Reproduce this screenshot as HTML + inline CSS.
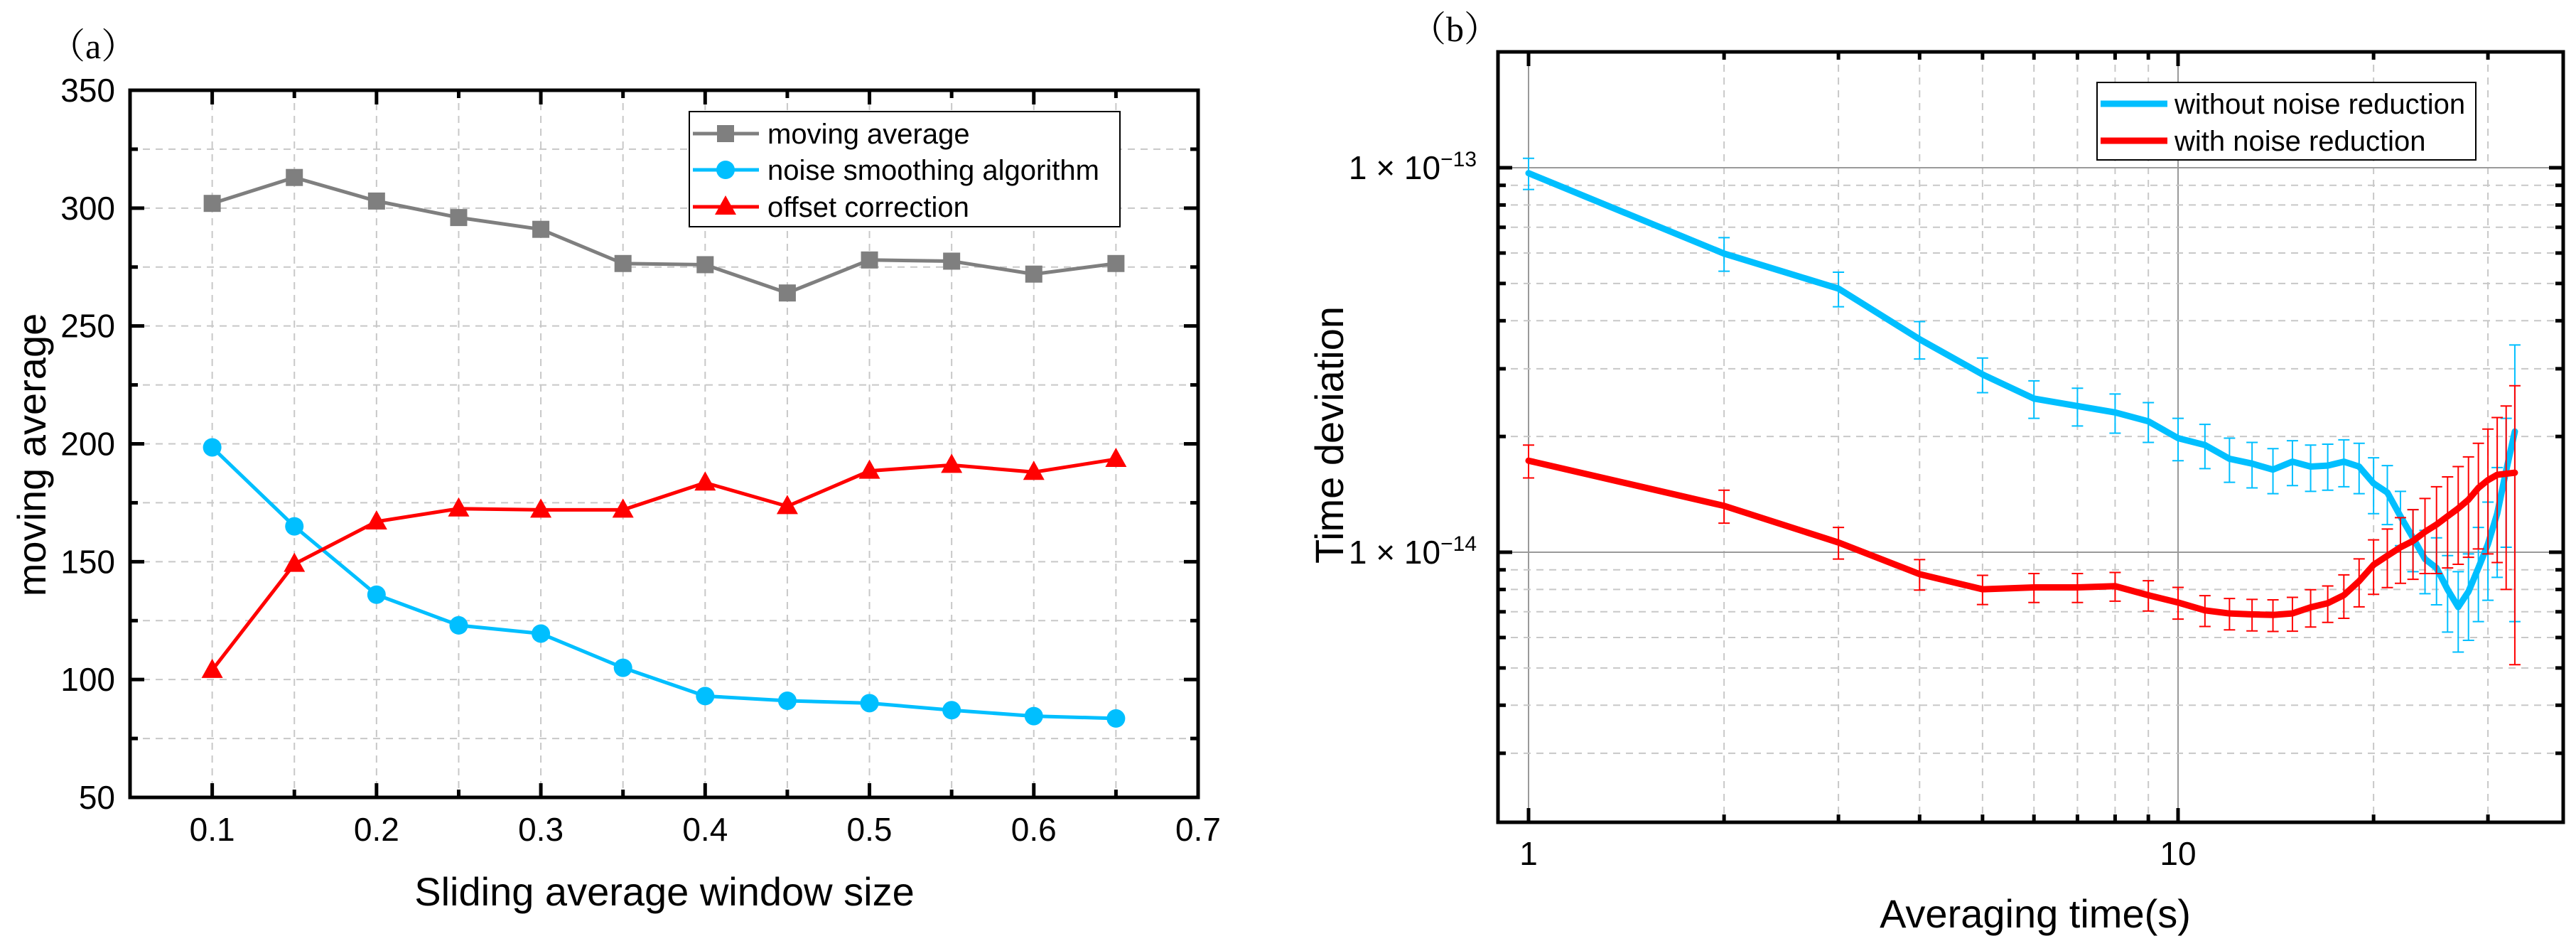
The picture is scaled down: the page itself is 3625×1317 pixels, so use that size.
<!DOCTYPE html>
<html><head><meta charset="utf-8"><style>
html,body{margin:0;padding:0;background:#fff;}
svg{display:block;font-family:"Liberation Sans",sans-serif;}
</style></head><body>
<svg id="c" width="3625" height="1317" viewBox="0 0 3625 1317" xmlns="http://www.w3.org/2000/svg"></svg>
<script>
// ---- Panel (a) data ----
const aX = [0.1,0.15,0.2,0.25,0.3,0.35,0.4,0.45,0.5,0.55,0.6,0.65];
const aMoving = [302,313,303,296,291,276.5,276,264,278,277.5,272,276.5];
const aNoise = [198.5,165,136,123,119.5,105,93,91,90,87,84.5,83.5];
const aOffset = [104,149,167,172.5,172,172,183.5,173.5,188.5,191,188,193.5];
const aXTicks = ["0.1","0.2","0.3","0.4","0.5","0.6","0.7"];
const aYTicks = ["50","100","150","200","250","300","350"];
// ---- Panel (b) data ----
const bTau = [1,2,3,4,5,6,7,8,9,10,11,12,13,14,15,16,17,18,19,20,21,22,23,24,25,26,27,28,29,30,31,32,33];
const bWithout = [9.68e-14,5.98e-14,4.85e-14,3.58e-14,2.90e-14,2.51e-14,2.40e-14,2.31e-14,2.19e-14,1.98e-14,1.90e-14,1.75e-14,1.70e-14,1.64e-14,1.72e-14,1.67e-14,1.68e-14,1.72e-14,1.67e-14,1.51e-14,1.43e-14,1.24e-14,1.09e-14,9.6e-15,9.1e-15,8.0e-15,7.2e-15,7.9e-15,9.1e-15,1.05e-14,1.26e-14,1.63e-14,2.06e-14];
const bWithoutErr = [0.9e-14,0.6e-14,0.5e-14,0.4e-14,0.3e-14,0.28e-14,0.27e-14,0.27e-14,0.26e-14,0.25e-14,0.25e-14,0.23e-14,0.23e-14,0.22e-14,0.23e-14,0.23e-14,0.23e-14,0.24e-14,0.25e-14,0.25e-14,0.25e-14,0.2e-14,0.2e-14,0.18e-14,0.18e-14,0.18e-14,0.17e-14,0.2e-14,0.25e-14,0.3e-14,0.4e-14,0.6e-14,1.4e-14];
const bWith = [1.73e-14,1.32e-14,1.06e-14,8.77e-15,8.01e-15,8.10e-15,8.10e-15,8.16e-15,7.73e-15,7.40e-15,7.06e-15,6.93e-15,6.89e-15,6.87e-15,6.93e-15,7.19e-15,7.37e-15,7.73e-15,8.41e-15,9.27e-15,9.79e-15,1.03e-14,1.07e-14,1.13e-14,1.18e-14,1.24e-14,1.30e-14,1.37e-14,1.47e-14,1.54e-14,1.59e-14,1.60e-14,1.61e-14];
const bWithErr = [0.17e-14,0.13e-14,0.1e-14,0.08e-14,0.07e-14,0.07e-14,0.07e-14,0.07e-14,0.07e-14,0.07e-14,0.065e-14,0.065e-14,0.065e-14,0.065e-14,0.07e-14,0.08e-14,0.08e-14,0.1e-14,0.12e-14,0.15e-14,0.17e-14,0.2e-14,0.22e-14,0.25e-14,0.3e-14,0.33e-14,0.37e-14,0.4e-14,0.45e-14,0.55e-14,0.65e-14,0.8e-14,1.1e-14];

const NS="http://www.w3.org/2000/svg";
const svg=document.getElementById('c');
function el(tag,attrs,parent,text){const e=document.createElementNS(NS,tag);for(const k in attrs)e.setAttribute(k,attrs[k]);if(text!==undefined)e.textContent=text;(parent||svg).appendChild(e);return e;}

// ===== Panel A =====
const A={l:183,r:1686,t:127,b:1122,x0:0.05,x1:0.7,y0:50,y1:350};
const ax=v=>A.l+(v-A.x0)/(A.x1-A.x0)*(A.r-A.l);
const ay=v=>A.b-(v-A.y0)/(A.y1-A.y0)*(A.b-A.t);
const gA=el('g',{});


// grid
for(let k=1;k<13;k++){const v=0.05+k*0.05;const x=ax(v);
  const g=el('line',{x1:x,x2:x,y1:A.t,y2:A.b,stroke:'#c8c8c8','stroke-width':2,'stroke-dasharray':'10,8'},gA);
  
  const major=(k%2===1);const len=major?20:11;
  el('line',{x1:x,x2:x,y1:A.b,y2:A.b-len,stroke:'#000','stroke-width':5},gA);
  el('line',{x1:x,x2:x,y1:A.t,y2:A.t+len,stroke:'#000','stroke-width':5},gA);
}
for(let k=1;k<12;k++){const v=50+k*25;const y=ay(v);
  const g=el('line',{x1:A.l,x2:A.r,y1:y,y2:y,stroke:'#c8c8c8','stroke-width':2,'stroke-dasharray':'10,8'},gA);
  
  const major=(k%2===0);const len=major?20:11;
  el('line',{x1:A.l,x2:A.l+len,y1:y,y2:y,stroke:'#000','stroke-width':5},gA);
  el('line',{x1:A.r,x2:A.r-len,y1:y,y2:y,stroke:'#000','stroke-width':5},gA);
}
const fa=el('rect',{x:A.l,y:A.t,width:A.r-A.l,height:A.b-A.t,fill:'none',stroke:'#000','stroke-width':5},gA);

aXTicks.forEach(t=>{const x=ax(parseFloat(t));const e=el('text',{x:x,y:1183,'font-size':46,'text-anchor':'middle'},gA,t);
  });
aYTicks.forEach(t=>{const y=ay(parseFloat(t));const e=el('text',{x:162,y:y+16,'font-size':46,'text-anchor':'end'},gA,t);
  });
let t1=el('text',{x:935,y:1274,'font-size':56,'text-anchor':'middle'},gA,'Sliding average window size');

let t2=el('text',{x:0,y:0,'font-size':56,'text-anchor':'middle',transform:'translate(64,640) rotate(-90)'},gA,'moving average');

let t3=el('text',{x:70,y:82,'font-size':50,'font-family':'"Liberation Serif","Noto Serif CJK SC",serif'},gA,'（a）');


function marker(type,x,y,color,parent){
  let m;
  if(type==='sq') m=el('rect',{x:x-12,y:y-12,width:24,height:24,fill:color},parent);
  else if(type==='ci') m=el('circle',{cx:x,cy:y,r:13,fill:color},parent);
  else m=el('polygon',{points:`${x},${y-16} ${x-15},${y+11} ${x+15},${y+11}`,fill:color},parent);
  return m;
}
function seriesA(vals,color,type,name){
  const g=el('g',{},gA);
  const pts=vals.map((v,i)=>ax(aX[i])+','+ay(v)).join(' ');
  el('polyline',{points:pts,fill:'none',stroke:color,'stroke-width':5},g);
  vals.forEach((v,i)=>{const m=marker(type,ax(aX[i]),ay(v),color,g);
    });
}
seriesA(aMoving,'#7f7f7f','sq','moving-average-series');
seriesA(aNoise,'#00bfff','ci','noise-smoothing-series');
seriesA(aOffset,'#ff0000','tr','offset-correction-series');
// legend A
const lgA=el('g',{},gA);
el('rect',{x:970,y:157,width:606,height:162,fill:'#fff',stroke:'#000','stroke-width':2},lgA);
[['moving average','#7f7f7f','sq',188],['noise smoothing algorithm','#00bfff','ci',239],['offset correction','#ff0000','tr',291]].forEach(d=>{
  const g=el('g',{},lgA);
  el('line',{x1:975,x2:1068,y1:d[3],y2:d[3],stroke:d[1],'stroke-width':5},g);
  marker(d[2],1021,d[3],d[1],g);
  el('text',{x:1080,y:d[3]+14,'font-size':40},g,d[0]);
});

// ===== Panel B =====
const B={l:2108,r:3607,t:73,b:1157};
const bx=v=>2151+Math.log10(v)*914;
const by=v=>236-(Math.log10(v)+13)*541;
const gB=el('g',{});


const xMinor=[2,3,4,5,6,7,8,9,20,30];
xMinor.forEach(v=>{const x=bx(v);
  const g=el('line',{x1:x,x2:x,y1:B.t,y2:B.b,stroke:'#c8c8c8','stroke-width':2,'stroke-dasharray':'10,8'},gB);
  
  el('line',{x1:x,x2:x,y1:B.b,y2:B.b-11,stroke:'#000','stroke-width':5},gB);
  el('line',{x1:x,x2:x,y1:B.t,y2:B.t+11,stroke:'#000','stroke-width':5},gB);});
[1,10].forEach(v=>{const x=bx(v);
  el('line',{x1:x,x2:x,y1:B.t,y2:B.b,stroke:'#9a9a9a','stroke-width':2},gB);
  el('line',{x1:x,x2:x,y1:B.b,y2:B.b-20,stroke:'#000','stroke-width':5},gB);
  el('line',{x1:x,x2:x,y1:B.t,y2:B.t+20,stroke:'#000','stroke-width':5},gB);});
const yMinor=[3e-15,4e-15,5e-15,6e-15,7e-15,8e-15,9e-15,2e-14,3e-14,4e-14,5e-14,6e-14,7e-14,8e-14,9e-14];
yMinor.forEach(v=>{const y=by(v);
  const g=el('line',{x1:B.l,x2:B.r,y1:y,y2:y,stroke:'#c8c8c8','stroke-width':2,'stroke-dasharray':'10,8'},gB);
  
  el('line',{x1:B.l,x2:B.l+11,y1:y,y2:y,stroke:'#000','stroke-width':5},gB);
  el('line',{x1:B.r,x2:B.r-11,y1:y,y2:y,stroke:'#000','stroke-width':5},gB);});
[1e-13,1e-14].forEach((v,i)=>{const y=by(v);
  el('line',{x1:B.l,x2:B.r,y1:y,y2:y,stroke:'#9a9a9a','stroke-width':2},gB);
  el('line',{x1:B.l,x2:B.l+20,y1:y,y2:y,stroke:'#000','stroke-width':5},gB);
  el('line',{x1:B.r,x2:B.r-20,y1:y,y2:y,stroke:'#000','stroke-width':5},gB);
  const t=el('text',{x:2078,y:y+16,'font-size':46,'text-anchor':'end'},gB);
  
  const a=el('tspan',{},t,'1 × 10');
  el('tspan',{dy:-18,'font-size':30},t,i===0?'−13':'−14');
});
const fb=el('rect',{x:B.l,y:B.t,width:B.r-B.l,height:B.b-B.t,fill:'none',stroke:'#000','stroke-width':5},gB);

[['1',1],['10',10]].forEach(d=>{const e=el('text',{x:bx(d[1]),y:1217,'font-size':46,'text-anchor':'middle'},gB,d[0]);
  });
let t4=el('text',{x:2864,y:1305,'font-size':56,'text-anchor':'middle'},gB,'Averaging time(s)');

let t5=el('text',{x:0,y:0,'font-size':56,'text-anchor':'middle',transform:'translate(1890,612) rotate(-90)'},gB,'Time deviation');

let t6=el('text',{x:1985,y:58,'font-size':50,'font-family':'"Liberation Serif","Noto Serif CJK SC",serif'},gB,'（b）');


function seriesB(vals,errs,color,name){
  const g=el('g',{},gB);
  vals.forEach((v,i)=>{const x=bx(bTau[i]);const hi=by(v+errs[i]);const lo=by(Math.max(v-errs[i],1e-16));
    const e=el('path',{d:`M${x},${hi}V${lo}M${x-8},${hi}H${x+8}M${x-8},${lo}H${x+8}`,stroke:color,'stroke-width':2,fill:'none'},g);
    });
  const pts=vals.map((v,i)=>bx(bTau[i])+','+by(v)).join(' ');
  el('polyline',{points:pts,fill:'none',stroke:color,'stroke-width':9,'stroke-linejoin':'round','stroke-linecap':'round'},g);
}
seriesB(bWithout,bWithoutErr,'#00bfff','without-noise-reduction-series');
seriesB(bWith,bWithErr,'#ff0000','with-noise-reduction-series');
const lgB=el('g',{},gB);
el('rect',{x:2951,y:116,width:533,height:109,fill:'#fff',stroke:'#000','stroke-width':2},lgB);
[['without noise reduction','#00bfff',146],['with noise reduction','#ff0000',198]].forEach(d=>{
  const g=el('g',{},lgB);
  el('line',{x1:2956,x2:3050,y1:d[2],y2:d[2],stroke:d[1],'stroke-width':9},g);
  el('text',{x:3060,y:d[2]+14,'font-size':40},g,d[0]);
});
</script>
</body></html>
